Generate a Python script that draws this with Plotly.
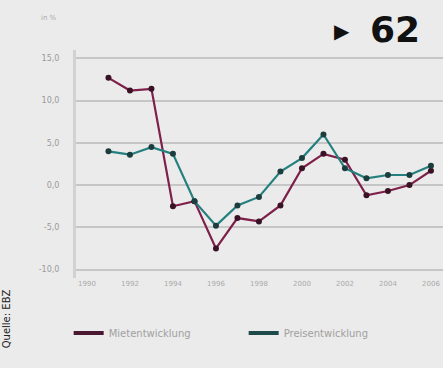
import plotly.graph_objects as go

years = [1991, 1992, 1993, 1994, 1995, 1996, 1997, 1998, 1999, 2000, 2001, 2002, 2003, 2004, 2005, 2006]
miete = [12.7, 11.2, 11.4, -2.5, -1.9, -7.5, -3.9, -4.3, -2.4, 2.0, 3.7, 3.0, -1.2, -0.7, 0.0, 1.7]
preis = [4.0, 3.6, 4.5, 3.7, -1.9, -4.8, -2.4, -1.4, 1.6, 3.2, 6.0, 2.0, 0.8, 1.2, 1.2, 2.3]
tick_years = [1990, 1992, 1994, 1996, 1998, 2000, 2002, 2004, 2006]
y_ticks = [15, 10, 5, 0, -5, -10]
y_labels = ["15,0", "10,0", "5,0", "0,0", "-5,0", "-10,0"]

c_miete, c_preis = "#7e2049", "#24807f"

fig = go.Figure()
fig.add_trace(go.Scatter(
    x=years, y=miete, name="Mietentwicklung", mode="lines+markers", showlegend=False,
    line=dict(color=c_miete, width=2.2),
    marker=dict(color="#3a1226", size=6),
))
fig.add_trace(go.Scatter(
    x=years, y=preis, name="Preisentwicklung", mode="lines+markers", showlegend=False,
    line=dict(color=c_preis, width=2.2),
    marker=dict(color="#1c3d3d", size=6),
))
# legend entries (line symbols only)
for name, col in [("Mietentwicklung", "#4a1830"), ("Preisentwicklung", "#1f4a4a")]:
    fig.add_trace(go.Scatter(x=[None], y=[None], name=name, mode="lines",
                             line=dict(color=col, width=4)))

bg = "#ebebeb"
fig.update_layout(
    width=443, height=368,
    margin=dict(l=76, r=0, t=50, b=90),
    paper_bgcolor=bg, plot_bgcolor=bg,
    font=dict(family="DejaVu Sans", color="#9a9a9a", size=8),
    showlegend=True,
    legend=dict(orientation="h", xref="container", yref="container",
                x=0.155, xanchor="left", y=0.095, yanchor="middle",
                font=dict(size=10, color="#a0a0a0", family="DejaVu Sans"),
                bgcolor="rgba(0,0,0,0)", entrywidth=130, itemwidth=30),
    xaxis=dict(range=[1989.49, 2006.56], tickvals=tick_years,
               ticktext=[str(t) for t in tick_years], showgrid=False,
               zeroline=False, showline=False, ticks="", tickfont=dict(size=7, color="#aaaaaa")),
    yaxis=dict(range=[-11, 16], tickvals=y_ticks, ticktext=y_labels,
               showgrid=True, gridcolor="#c6c6c6", gridwidth=1.5,
               zeroline=False, showline=True, linecolor="#d2d2d2", linewidth=3,
               ticks="", ticklabelstandoff=12, tickfont=dict(size=8, color="#9a9a9a")),
)

fig.add_annotation(text="in %", xref="paper", yref="paper", x=-0.1, y=1.14,
                   xanchor="left", yanchor="middle", showarrow=False,
                   font=dict(size=7, color="#aaaaaa"))
fig.add_annotation(text="▶", xref="paper", yref="paper", x=0.752, y=1.085,
                   xanchor="right", yanchor="middle", showarrow=False,
                   font=dict(size=20, color="#111111"))
fig.add_annotation(text="<b>62</b>", xref="paper", yref="paper", x=0.795, y=1.09,
                   xanchor="left", yanchor="middle", showarrow=False,
                   font=dict(size=36, color="#111111", family="DejaVu Sans"))
fig.add_annotation(text="Quelle: EBZ", xref="paper", yref="paper", x=-0.19, y=-0.18,
                   xanchor="center", yanchor="middle", textangle=-90, showarrow=False,
                   font=dict(size=10, color="#222222"))

fig.write_html("out.html")
